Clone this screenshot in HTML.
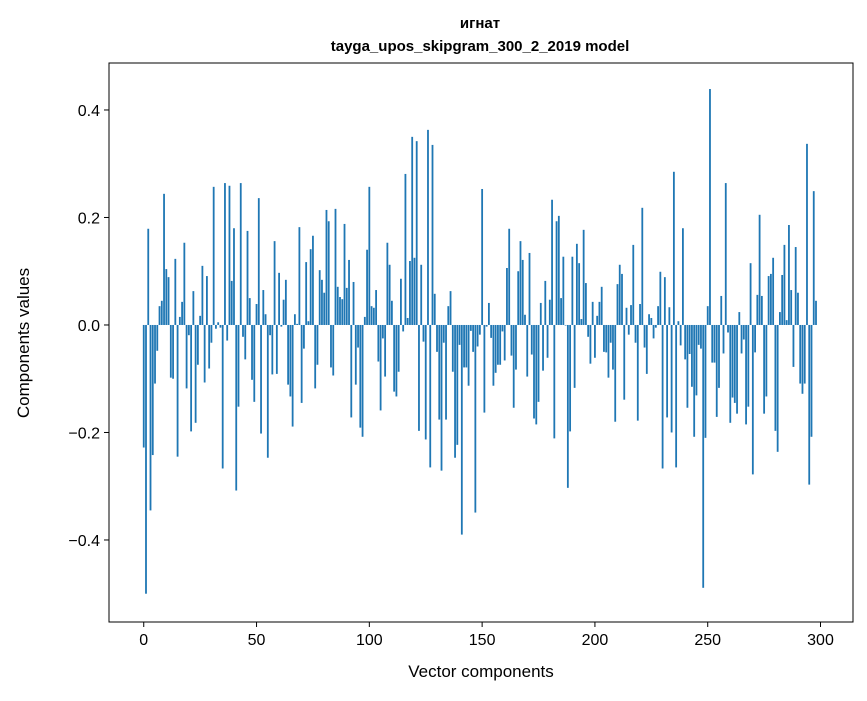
<!DOCTYPE html>
<html><head><meta charset="utf-8"><style>
body{margin:0;background:#fff}
svg text{font-family:"Liberation Sans","DejaVu Sans",sans-serif;fill:#000}
</style></head><body>
<svg id="chart" width="867" height="696" viewBox="0 0 867 696" xmlns="http://www.w3.org/2000/svg">
<rect width="867" height="696" fill="#fff"/>
<text x="480" y="28" text-anchor="middle" font-size="15" font-weight="bold">игнат</text>
<text x="480" y="51" text-anchor="middle" font-size="15" font-weight="bold">tayga_upos_skipgram_300_2_2019 model</text>
<g id="bars"></g>
<g id="xticks"></g>
<g id="yticks"></g>
<rect x="109" y="63" width="744" height="559" fill="none" stroke="#000" stroke-width="1"/>
<text x="481" y="677" text-anchor="middle" font-size="17">Vector components</text>
<text transform="translate(29,343) rotate(-90)" text-anchor="middle" font-size="17">Components values</text>
</svg>
<script>
const values = [
-0.228,-0.50,0.179,-0.345,-0.242,-0.109,-0.048,0.035,0.045,0.244,
0.104,0.089,-0.098,-0.10,0.123,-0.245,0.015,0.043,0.153,-0.118,
-0.019,-0.198,0.063,-0.182,-0.074,0.017,0.11,-0.107,0.091,-0.081,
-0.033,0.257,-0.007,0.005,-0.005,-0.267,0.264,-0.029,0.259,0.082,0.18,
-0.308,-0.152,0.264,-0.022,-0.064,0.175,0.05,-0.102,-0.143,0.039,
0.236,-0.202,0.065,0.02,-0.247,-0.019,-0.092,0.156,
-0.091,0.097,-0.003,0.047,0.084,-0.111,-0.133,-0.189,0.02,0.002,0.182,-0.145,-0.044,0.117,0.007,0.141,0.166,-0.118,-0.074,0.102,0.084,0.06,0.214,0.193,-0.079,-0.094,0.216,0.071,0.052,0.048,0.188,0.069,0.121,-0.172,0.08,-0.111,-0.042,-0.191,-0.208,0.015,0.14,0.257,
0.035,0.032,0.065,-0.068,-0.159,-0.025,-0.096,0.153,0.112,0.045,
-0.124,-0.133,-0.087,0.086,-0.012,0.281,0.013,0.119,0.35,0.125,
0.342,-0.197,0.112,-0.031,-0.213,0.363,-0.265,0.335,0.058,-0.05,
-0.176,-0.271,-0.033,-0.176,0.035,0.063,-0.087,-0.247,-0.223,-0.037,
-0.39,-0.079,-0.079,-0.113,-0.011,-0.05,-0.349,-0.04,-0.018,
0.253,-0.163,-0.003,0.041,-0.024,-0.113,-0.089,-0.074,-0.074,-0.012,
-0.066,0.106,0.179,-0.057,-0.154,-0.083,0.1,0.156,0.121,0.019,
-0.096,0.134,-0.055,-0.174,-0.185,-0.143,0.041,-0.085,0.082,-0.061,
0.047,0.233,-0.211,0.193,0.203,0.05,0.127,-0.001,-0.303,-0.198,
0.127,-0.117,0.151,0.115,0.011,0.177,0.078,-0.022,-0.072,0.043,
-0.061,
0.017,0.043,0.071,-0.05,-0.051,-0.098,-0.033,-0.083,-0.18,0.076,
0.112,0.095,-0.139,0.032,-0.018,0.037,0.149,-0.033,-0.178,0.039,
0.218,-0.042,-0.091,0.02,0.013,-0.025,-0.005,0.035,0.099,-0.267,
0.089,-0.172,0.033,-0.2,0.285,-0.265,0.007,-0.038,0.18,-0.064,
-0.154,-0.054,-0.115,-0.208,-0.131,-0.037,-0.044,-0.489,-0.21,0.035,
0.439,
-0.07,-0.07,-0.171,-0.117,0.054,-0.053,0.264,-0.014,-0.182,-0.135,
-0.145,-0.165,0.024,-0.053,-0.027,-0.185,-0.152,0.115,-0.278,-0.051,
0.056,0.205,0.054,-0.165,-0.133,0.091,0.095,0.125,-0.197,-0.236,
0.024,0.093,0.149,0.009,0.186,0.065,-0.078,0.145,0.06,-0.109,
-0.128,-0.109,0.337,-0.297,-0.208,0.249,0.045
];
const xTickValues = [0,50,100,150,200,250,300];
const yTickValues = [-0.4,-0.2,0.0,0.2,0.4];
const yTickLabels = ["\u22120.4","\u22120.2","0.0","0.2","0.4"];

const NS = "http://www.w3.org/2000/svg";
const xMin = -15.4, xMax = 314.4, pxL = 109, pxR = 853;
const yMin = -0.5526, yMax = 0.4874, pxB = 622, pxT = 63;
function xScale(v){ return pxL + (v - xMin) / (xMax - xMin) * (pxR - pxL); }
function yScale(v){ return pxB - (v - yMin) / (yMax - yMin) * (pxB - pxT); }

const barsG = document.getElementById('bars');
const bw = (xScale(0.8) - xScale(0));
values.forEach((v, i) => {
  const r = document.createElementNS(NS, 'rect');
  const y0 = yScale(0), y1 = yScale(v);
  r.setAttribute('x', xScale(i) - bw / 2);
  r.setAttribute('y', Math.min(y0, y1));
  r.setAttribute('width', bw);
  r.setAttribute('height', Math.abs(y1 - y0));
  r.setAttribute('fill', '#1f77b4');
  
  
  barsG.appendChild(r);
});

const xg = document.getElementById('xticks');
xTickValues.forEach(t => {
  const x = xScale(t);
  const l = document.createElementNS(NS, 'line');
  l.setAttribute('x1', x); l.setAttribute('x2', x);
  l.setAttribute('y1', pxB); l.setAttribute('y2', pxB + 5);
  l.setAttribute('stroke', '#000');
  
  
  xg.appendChild(l);
  const tx = document.createElementNS(NS, 'text');
  tx.setAttribute('x', x); tx.setAttribute('y', pxB + 23);
  tx.setAttribute('text-anchor', 'middle');
  tx.setAttribute('font-size', '16');
  
  
  tx.textContent = String(t);
  xg.appendChild(tx);
});

const yg = document.getElementById('yticks');
yTickValues.forEach((t, k) => {
  const y = yScale(t);
  const l = document.createElementNS(NS, 'line');
  l.setAttribute('x1', pxL - 5); l.setAttribute('x2', pxL);
  l.setAttribute('y1', y); l.setAttribute('y2', y);
  l.setAttribute('stroke', '#000');
  
  
  yg.appendChild(l);
  const tx = document.createElementNS(NS, 'text');
  tx.setAttribute('x', pxL - 9); tx.setAttribute('y', y + 6);
  tx.setAttribute('text-anchor', 'end');
  tx.setAttribute('font-size', '16');
  
  
  tx.textContent = yTickLabels[k];
  yg.appendChild(tx);
});
</script>
</body></html>
